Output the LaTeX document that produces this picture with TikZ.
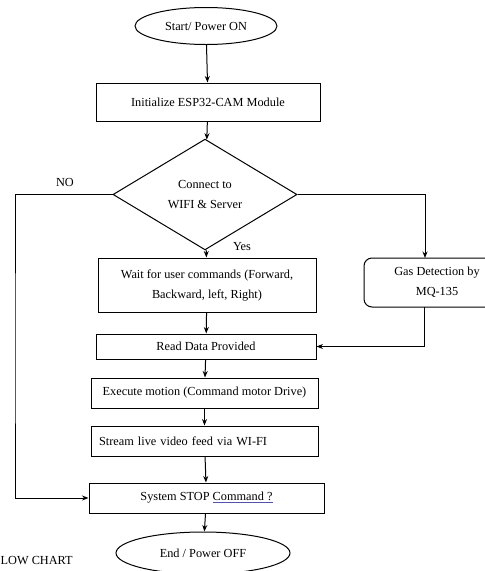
\documentclass[tikz,border=0pt]{standalone}
\usepackage{fontspec}
\setmainfont{Liberation Serif}
\usepackage{tikz}
\usetikzlibrary{arrows.meta,shapes.geometric}

\begin{document}
\begin{tikzpicture}[x=1pt,y=-1pt,font=\fontsize{12.3}{20}\selectfont]
		\clip (0,0) rectangle (485,571);
		\begin{scope}[every node/.style={draw,line width=1pt,inner sep=2pt,align=center}]
		    \node[ellipse,minimum width=142,minimum height=37] (start) at (206,26) {Start/ Power ON};
		    \node[minimum width=224,minimum height=38] (init) at (208,102) {Initialize ESP32-CAM Module};
		    \node[diamond,minimum width=184,minimum height=95] (conn) at (205,194.5) {Connect to\\WIFI \& Server};
		    \node[minimum width=218,minimum height=54] (wait) at (207,285) {Wait for user commands (Forward,\\Backward, left, Right)};
		    \node[rounded corners=8pt,minimum width=146,minimum height=49] (gas) at (437,282.5) {Gas Detection by\\MQ-135};
		    \node[minimum width=220,minimum height=25] (read) at (206,346.5) {Read Data Provided};
		    \node[minimum width=227,minimum height=30] (exec) at (204.5,393) {Execute motion (Command motor Drive)};
		    \node[minimum width=227,minimum height=30,text width=211,align=left] (stream) at (204.5,441) {Stream live video feed via WI-FI};
		    \node[minimum width=235,minimum height=30] (stop) at (206.5,498) {System STOP {\color{blue!35!gray}\underline{\color{black}Command ?}}};
		    \node[ellipse,minimum width=174,minimum height=42] (end) at (203,553) {End / Power OFF};
		\end{scope}

		\node (no) at (65,182) {NO};
		\node (yes) at (242,247) {Yes};
		\node[anchor=west,inner sep=0pt] (title) at (0.5,561) {LOW CHART};

		\coordinate (noleft) at (15,350);
		\coordinate (gasin) at (425,258);
		\coordinate (gasout) at (424,307);

		\begin{scope}[>={Stealth[length=6.5pt,width=5pt]},line width=1pt]
		    \draw[->] (start) -- (init);
		    \draw[->] (init) -- (conn);
		    \draw[->] (conn) -- (wait);
		    \draw[->] (wait) -- (read);
		    \draw[->] (read) -- (exec);
		    \draw[->] (exec) -- (stream);
		    \draw[->] (stream) -- (stop);
		    \draw[->] (stop) -- (end);
		    \draw[->] (conn.west) -| (noleft) |- (stop.west);
		    \draw[->] (conn.east) -| (gasin);
		    \draw[->] (gasout) |- (read.east);
		\end{scope}
\end{tikzpicture}
\end{document}
